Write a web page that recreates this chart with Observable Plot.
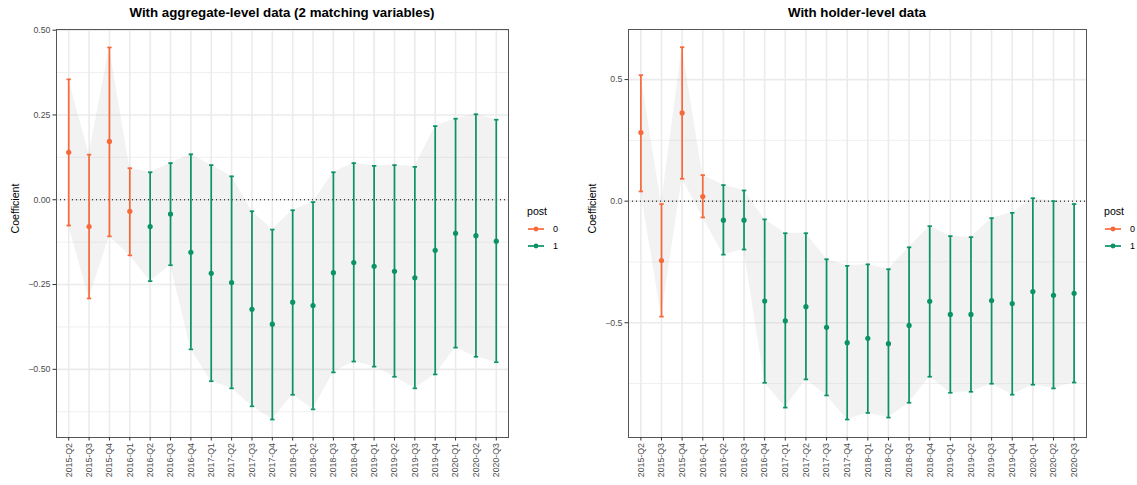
<!DOCTYPE html>
<html><head><meta charset="utf-8">
<script src="https://cdn.jsdelivr.net/npm/d3@7"></script>
<script src="https://cdn.jsdelivr.net/npm/@observablehq/plot@0.6"></script>
<style>
body{margin:0;background:#fff;font-family:"Liberation Sans",Arial,Helvetica,sans-serif;}
#root{position:relative;width:1137px;height:485px;overflow:hidden;background:#fff;}
.title{position:absolute;top:5px;text-align:center;font-weight:bold;font-size:13.3px;color:#000;white-space:nowrap;}
.plot{position:absolute;top:22px;}
.legend{position:absolute;top:205px;color:#000;}
.legend .lt{font-size:10.6px;margin-bottom:4px;}
.legend .row{display:flex;align-items:center;height:16.5px;font-size:9px;}
.legend .row svg{margin-right:8px;}
</style></head>
<body><div id="root">
<div class="title" style="left:0;width:564px">With aggregate-level data (2 matching variables)</div>
<div class="title" style="left:628px;width:458px">With holder-level data</div>
<div class="plot" id="p1" style="left:0"></div>
<div class="plot" id="p2" style="left:575px"></div>
<div class="legend" id="lg1" style="left:527px"></div>
<div class="legend" id="lg2" style="left:1104px"></div>
</div>
<script>
const quarters = ["2015-Q2","2015-Q3","2015-Q4","2016-Q1","2016-Q2","2016-Q3","2016-Q4","2017-Q1","2017-Q2","2017-Q3","2017-Q4","2018-Q1","2018-Q2","2018-Q3","2018-Q4","2019-Q1","2019-Q2","2019-Q3","2019-Q4","2020-Q1","2020-Q2","2020-Q3"];
const post = [0,0,0,0,1,1,1,1,1,1,1,1,1,1,1,1,1,1,1,1,1,1];

const aggCoef = [0.140,-0.079,0.172,-0.034,-0.079,-0.042,-0.155,-0.217,-0.244,-0.323,-0.367,-0.302,-0.312,-0.215,-0.185,-0.196,-0.211,-0.230,-0.149,-0.099,-0.106,-0.122];
const aggLow  = [-0.076,-0.291,-0.108,-0.164,-0.240,-0.193,-0.441,-0.535,-0.556,-0.609,-0.648,-0.575,-0.618,-0.509,-0.477,-0.492,-0.522,-0.556,-0.515,-0.436,-0.463,-0.479];
const aggHigh = [0.355,0.133,0.449,0.093,0.081,0.108,0.134,0.102,0.069,-0.034,-0.088,-0.031,-0.007,0.081,0.108,0.100,0.102,0.097,0.217,0.239,0.252,0.236];

const holdCoef = [0.282,-0.244,0.363,0.019,-0.078,-0.078,-0.411,-0.492,-0.434,-0.519,-0.582,-0.564,-0.586,-0.511,-0.412,-0.466,-0.466,-0.409,-0.421,-0.372,-0.387,-0.379];
const holdLow  = [0.040,-0.475,0.092,-0.067,-0.220,-0.199,-0.747,-0.849,-0.733,-0.799,-0.898,-0.871,-0.890,-0.829,-0.722,-0.788,-0.784,-0.751,-0.796,-0.755,-0.770,-0.746];
const holdHigh = [0.518,-0.012,0.633,0.107,0.066,0.044,-0.075,-0.132,-0.132,-0.239,-0.266,-0.260,-0.280,-0.190,-0.103,-0.144,-0.148,-0.070,-0.048,0.012,0.000,-0.012];

const postLevels = ["0","1"];
const postColors = ["#F8693A","#0A9366"];

const aggTicks = [-0.5,-0.25,0,0.25,0.5];
const aggMinor = [-0.625,-0.375,-0.125,0.125,0.375];
const holdTicks = [-0.5,0,0.5];
const holdMinor = [-0.75,-0.25,0.25];

const capSymbol = {draw(ctx, size){ const w = Math.sqrt(size/Math.PI); ctx.moveTo(-w,0); ctx.lineTo(w,0); }};

function makeChart(coef, low, high, cfg){
  const data = quarters.map((q,i)=>({q, coef:coef[i], lo:low[i], hi:high[i], post:String(post[i])}));
  return Plot.plot({
    width: cfg.width, height: 463,
    marginLeft: cfg.marginLeft, marginRight: 12, marginTop: 7, marginBottom: 48,
    style: {fontFamily: '"Liberation Sans",Arial,sans-serif', background: "#fff"},
    x: {type: "point", domain: quarters, padding: 0.6, round: false},
    y: {domain: cfg.domain},
    color: {domain: postLevels, range: postColors},
    marks: [
      Plot.gridY(cfg.minor, {stroke: "#EBEBEB", strokeOpacity: 1, strokeWidth: 0.8}),
      Plot.gridY(cfg.ticks, {stroke: "#EBEBEB", strokeOpacity: 1, strokeWidth: 1.6}),
      Plot.gridX(quarters, {stroke: "#EBEBEB", strokeOpacity: 1, strokeWidth: 1.6}),
      Plot.areaY(data, {x: "q", y1: "lo", y2: "hi", fill: "#BEBEBE", fillOpacity: 0.2, curve: "linear"}),
      Plot.ruleY([0], {stroke: "#000", strokeWidth: 1, strokeDasharray: "1,3"}),
      Plot.ruleX(data, {x: "q", y1: "lo", y2: "hi", stroke: d => d.post, strokeWidth: 1.7}),
      Plot.dot(data, {x: "q", y: "lo", symbol: capSymbol, r: 2.2, stroke: d => d.post, strokeWidth: 1.7, fill: "none"}),
      Plot.dot(data, {x: "q", y: "hi", symbol: capSymbol, r: 2.2, stroke: d => d.post, strokeWidth: 1.7, fill: "none"}),
      Plot.dot(data, {x: "q", y: "coef", r: 2.6, fill: d => d.post, stroke: "none"}),
      Plot.frame({stroke: "#555", strokeWidth: 1}),
      Plot.axisY(cfg.ticks, {tickFormat: cfg.fmt, tickSize: 3.5, tickPadding: 2.5, fontSize: 8.8, fill: "#4D4D4D", stroke: "#333", label: null}),
      Plot.axisX(quarters, {tickRotate: -90, tickSize: 3.5, tickPadding: 2, fontSize: 8.8, fill: "#4D4D4D", stroke: "#333", label: null}),
      Plot.text(["Coefficient"], {frameAnchor: "left", dx: -cfg.titleOffset, rotate: -90, fontSize: 10.6, fill: "#000"})
    ]
  });
}

document.getElementById("p1").append(makeChart(aggCoef, aggLow, aggHigh, {
  width: 520, marginLeft: 56, domain: [-0.701, 0.502], ticks: aggTicks, minor: aggMinor, fmt: d3.format(".2f"), titleOffset: 41
}));
document.getElementById("p2").append(makeChart(holdCoef, holdLow, holdHigh, {
  width: 523, marginLeft: 53, domain: [-0.972, 0.706], ticks: holdTicks, minor: holdMinor, fmt: d3.format(".1f"), titleOffset: 36
}));

function legend(el){
  let html = '<div class="lt">post</div>';
  postLevels.forEach((p,i)=>{
    html += `<div class="row"><svg width="18" height="10"><line x1="1" x2="17" y1="5" y2="5" stroke="${postColors[i]}" stroke-width="1.7"/><circle cx="9" cy="5" r="2.4" fill="${postColors[i]}"/></svg><span>${p}</span></div>`;
  });
  el.innerHTML = html;
}
legend(document.getElementById("lg1"));
legend(document.getElementById("lg2"));
</script>
</body></html>
